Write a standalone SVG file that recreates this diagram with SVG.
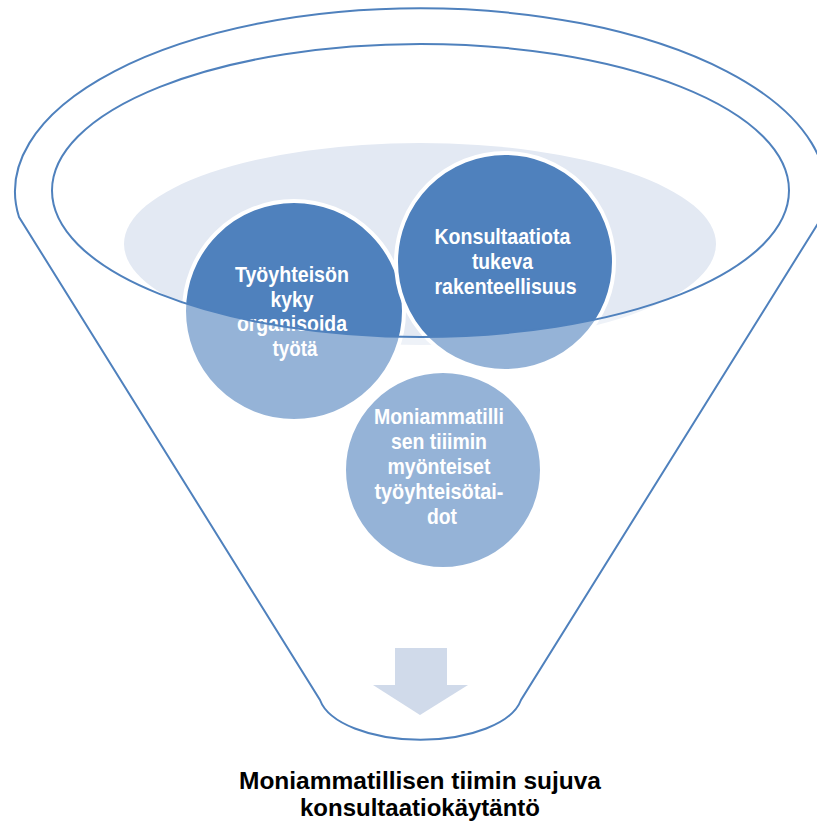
<svg xmlns="http://www.w3.org/2000/svg" width="817" height="827" viewBox="0 0 817 827">
  <style>
    .ctext { font-family: "Liberation Sans", Arial, sans-serif; font-weight: bold; font-size: 22px; fill: #FFFFFF; text-anchor: middle; }
    .title { font-family: "Liberation Sans", Arial, sans-serif; font-weight: bold; font-size: 24px; fill: #000000; text-anchor: middle; }
    .circle { fill: #4F81BD; stroke: #FFFFFF; stroke-width: 4; }
    .outline { fill: none; stroke: #4F81BD; stroke-width: 2; }
  </style>
  <rect width="817" height="827" fill="#FFFFFF"/>
  <g id="funnel-back">
    <ellipse cx="420" cy="244" rx="296" ry="101" fill="#E3E9F3"/>
  </g>
  <g id="node-left">
    <circle class="circle" cx="294" cy="311" r="110"/>
    <text class="ctext">
      <tspan x="295" y="282" textLength="114" lengthAdjust="spacingAndGlyphs">Työyhteisön</tspan>
      <tspan x="295" y="307" textLength="43" lengthAdjust="spacingAndGlyphs">kyky</tspan>
      <tspan x="295" y="331" textLength="110" lengthAdjust="spacingAndGlyphs">organisoida</tspan>
      <tspan x="295" y="356" textLength="45" lengthAdjust="spacingAndGlyphs">työtä</tspan>
    </text>
  </g>
  <g id="node-right">
    <circle class="circle" cx="505" cy="262" r="109"/>
    <text class="ctext">
      <tspan x="505.5" y="244" textLength="136" lengthAdjust="spacingAndGlyphs">Konsultaatiota</tspan>
      <tspan x="505.5" y="269" textLength="61" lengthAdjust="spacingAndGlyphs">tukeva</tspan>
      <tspan x="505.5" y="294" textLength="142" lengthAdjust="spacingAndGlyphs">rakenteellisuus</tspan>
    </text>
  </g>
  <g id="node-bottom">
    <circle class="circle" cx="443" cy="470" r="99"/>
    <text class="ctext">
      <tspan x="442" y="424" textLength="130" lengthAdjust="spacingAndGlyphs">Moniammatilli</tspan>
      <tspan x="442" y="449" textLength="96" lengthAdjust="spacingAndGlyphs">sen tiiimin</tspan>
      <tspan x="442" y="474" textLength="103" lengthAdjust="spacingAndGlyphs">myönteiset</tspan>
      <tspan x="442" y="499" textLength="129" lengthAdjust="spacingAndGlyphs">työyhteisötai-</tspan>
      <tspan x="442" y="524" textLength="30" lengthAdjust="spacingAndGlyphs">dot</tspan>
    </text>
  </g>
  <g id="funnel">
    <path d="M19,217 A405.5,183 0 1 1 822,217 L521,700 A102,48 0 0 1 320,700 Z M52,190.5 A368.5,146.5 0 1 0 789,190.5 A368.5,146.5 0 1 0 52,190.5 Z" fill="#FFFFFF" fill-opacity="0.4" fill-rule="evenodd"/>
    <path class="outline" d="M19,217 A405.5,183 0 1 1 822,217 L521,700 A102,48 0 0 1 320,700 Z"/>
    <ellipse class="outline" cx="420.5" cy="190.5" rx="368.5" ry="146.5" stroke-width="1.6"/>
  </g>
  <g id="connectors">
    <path d="M395,648 H447 V685 H468 L420,715 L373,685 H395 Z" fill="#D0DAEA"/>
  </g>
  <g id="result">
    <text class="title" x="420" y="789" textLength="362" lengthAdjust="spacingAndGlyphs">Moniammatillisen tiimin sujuva</text>
    <text class="title" x="420" y="816" textLength="240" lengthAdjust="spacingAndGlyphs">konsultaatiokäytäntö</text>
  </g>
</svg>
